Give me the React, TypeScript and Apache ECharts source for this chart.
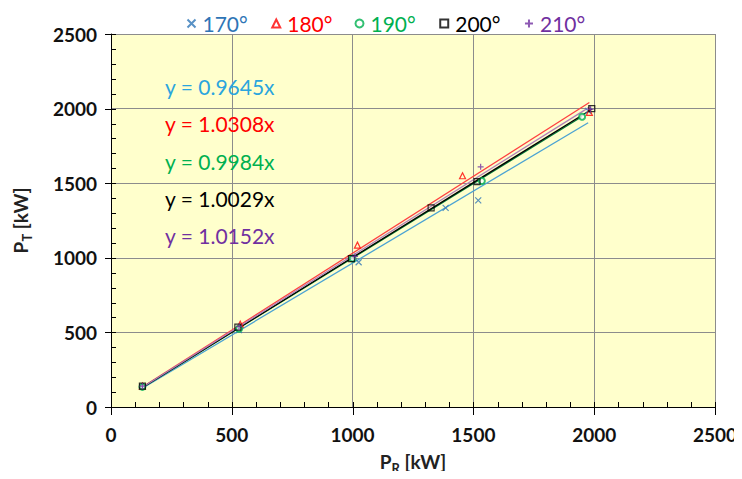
import React, { useEffect, useRef } from "react";
import * as echarts from "echarts";

const seriesNames = ["170°", "180°", "190°", "200°", "210°"];
const data170 = [[130, 135], [530, 515], [1025, 970], [1385, 1335], [1520, 1385], [1975, 1985]];
const data180 = [[130, 140], [535, 555], [1020, 1085], [1455, 1550], [1980, 1975]];
const data190 = [[130, 135], [530, 525], [1000, 995], [1535, 1515], [1950, 1945]];
const data200 = [[130, 140], [525, 535], [995, 995], [1325, 1335], [1515, 1510], [1990, 2000]];
const data210 = [[130, 140], [530, 540], [1010, 1010], [1530, 1610], [1985, 1995]];
const slopes = [0.9645, 1.0308, 0.9984, 1.0029, 1.0152];
const equations = ["y = 0.9645x", "y = 1.0308x", "y = 0.9984x", "y = 1.0029x", "y = 1.0152x"];
const tickValues = [
  0, 100, 200, 300, 400, 500, 600, 700, 800, 900, 1000, 1100, 1200,
  1300, 1400, 1500, 1600, 1700, 1800, 1900, 2000, 2100, 2200, 2300, 2400, 2500,
];

const allData = [data170, data180, data190, data200, data210];
const markerColors = ["#2E75B6", "#FF0000", "#00B050", "#000000", "#7030A0"];
const textColors = ["#2E75B6", "#FF0000", "#00B050", "#000000", "#7030A0"];
const eqColors = ["#2AA5DE", "#FF0000", "#00B050", "#000000", "#7030A0"];
const lineColors = ["#4BA3D3", "#FF4040", "#00803A", "#000000", "#B07FB8"];
const symbols = [
  "path://M0,0L10,10M10,0L0,10",
  "triangle",
  "emptyCircle",
  "rect",
  "path://M5,0L5,10M0,5L10,5",
];

const FONT = "Lato, 'Open Sans', sans-serif";
const W = 742;
const H = 479;

export default function App() {
  const ref = useRef<HTMLDivElement>(null);
  useEffect(() => {
    if (!ref.current) return;
    const chart = echarts.init(ref.current, undefined, { renderer: "svg" });

    const lineSeries = allData.map((d, i) => {
      const xs = d.map((p) => p[0]);
      const x0 = Math.min(...xs);
      const x1 = Math.max(...xs);
      return {
        name: seriesNames[i] + " trend",
        type: "line",
        data: [[x0, slopes[i] * x0], [x1, slopes[i] * x1]],
        showSymbol: false,
        symbol: "none",
        lineStyle: { color: lineColors[i], width: 1.3 },
        z: 2,
        silent: true,
      };
    });

    const scatterSeries = allData.map((d, i) => ({
      name: seriesNames[i],
      type: "scatter",
      data: d,
      symbol: symbols[i],
      symbolSize: 6,
      itemStyle: {
        color: i === 2 ? markerColors[i] : "none",
        borderColor: markerColors[i],
        borderWidth: 1.2,
      },
      z: 5,
    }));

    const tickSeries = {
      name: "axis ticks",
      type: "custom",
      silent: true,
      clip: false,
      z: 6,
      data: tickValues.map((v) => [v, v]),
      encode: { x: 0, y: 1 },
      renderItem: (_params: any, api: any) => {
        const v = api.value(0);
        const major = v % 500 === 0;
        const px = api.coord([v, 0]);
        const py = api.coord([0, v]);
        const xx = Math.round(px[0]) + 0.5;
        const yy = Math.round(py[1]) + 0.5;
        const style = { stroke: "#000", lineWidth: 1 };
        return {
          type: "group",
          children: [
            {
              type: "line",
              shape: { x1: xx, y1: px[1] + (major ? 8 : 0), x2: xx, y2: px[1] - 5 },
              style,
            },
            {
              type: "line",
              shape: { x1: py[0] - (major ? 6 : 0), y1: yy, x2: py[0] + 5, y2: yy },
              style,
            },
          ],
        };
      },
    };

    const fmt = (v: number) => String(v);
    const nameRich = {
      a: { fontSize: 19, fontWeight: "bold", color: "#222", fontFamily: FONT },
      s: { fontSize: 13, fontWeight: "bold", color: "#222", fontFamily: FONT, padding: [12, 0, 0, 0] },
    };

    chart.setOption({
      animation: false,
      textStyle: { fontFamily: FONT },
      grid: { left: 111, right: 27, top: 34, bottom: 71 },
      legend: {
        data: seriesNames.map((n, i) => ({ name: n, textStyle: { color: textColors[i] } })),
        left: 180,
        top: 8,
        itemWidth: 8,
        itemHeight: 8,
        itemGap: 22,
        textStyle: { fontSize: 21, fontFamily: FONT, padding: [0, 0, 0, 2] },
      },
      xAxis: {
        type: "value",
        min: 0,
        max: 2500,
        interval: 500,
        name: "{a|P}{s|R}{a| [kW]}",
        nameLocation: "middle",
        nameGap: 42,
        nameTextStyle: { rich: nameRich },
        axisLine: { show: true, lineStyle: { color: "#000", width: 1 } },
        axisTick: { show: false },
        axisLabel: { fontSize: 19, fontWeight: "bold", color: "#111", margin: 18, fontFamily: FONT, formatter: fmt },
        splitLine: { show: true, lineStyle: { color: "#8C8C8C", width: 1 } },
      },
      yAxis: {
        type: "value",
        min: 0,
        max: 2500,
        interval: 500,
        name: "{a|P}{s|T}{a| [kW]}",
        nameLocation: "middle",
        nameGap: 78,
        nameRotate: 90,
        nameTextStyle: { rich: nameRich },
        axisLine: { show: true, lineStyle: { color: "#000", width: 1 } },
        axisTick: { show: false },
        axisLabel: { fontSize: 19, fontWeight: "bold", color: "#111", margin: 14, fontFamily: FONT, formatter: fmt },
        splitLine: { show: true, lineStyle: { color: "#8C8C8C", width: 1 } },
        splitArea: { show: true, areaStyle: { color: ["#FFFFCC", "#FFFFCC"] } },
      },
      graphic: equations.map((t, i) => ({
        type: "text",
        left: 165,
        top: 76 + i * 37.3,
        style: {
          text: t,
          fill: eqColors[i],
          fontSize: 21,
          fontFamily: FONT,
        },
        z: 10,
      })),
      series: [...lineSeries, ...scatterSeries, tickSeries],
    });
    return () => chart.dispose();
  }, []);
  return <div ref={ref} style={{ width: W, height: H, margin: -8 }} />;
}
